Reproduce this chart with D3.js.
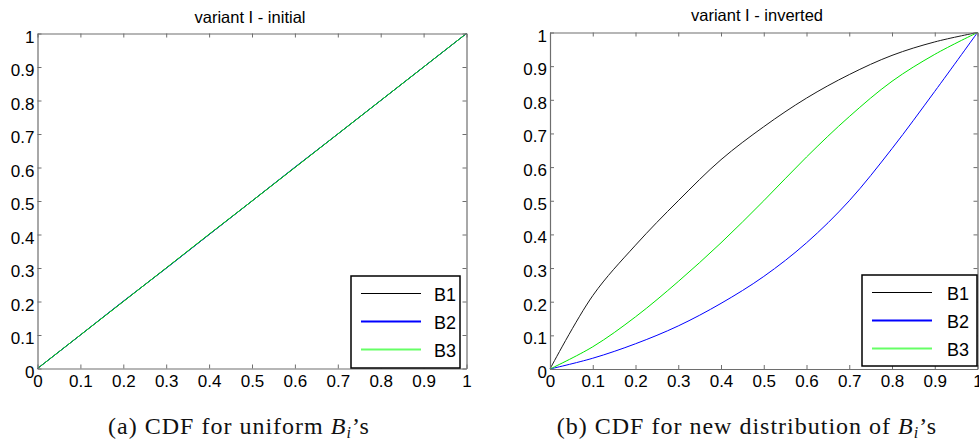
<!DOCTYPE html>
<html>
<head>
<meta charset="utf-8">
<script src="https://cdn.jsdelivr.net/npm/d3@7"></script>
<style>
  html, body { margin: 0; padding: 0; background: #fff; }
  svg { display: block; }
</style>
</head>
<body>
<svg id="chart" width="979" height="446"></svg>
<script>
// ---------------- data ----------------
const seriesNames = ["B1", "B2", "B3"];
const xValues = [0, 0.1, 0.2, 0.3, 0.4, 0.5, 0.6, 0.7, 0.8, 0.9, 1];
const tickValues = [0, 0.1, 0.2, 0.3, 0.4, 0.5, 0.6, 0.7, 0.8, 0.9, 1];
const tickLabels = ["0", "0.1", "0.2", "0.3", "0.4", "0.5", "0.6", "0.7", "0.8", "0.9", "1"];

// panel (a): variant I - initial
const initialB1 = [0, 0.1, 0.2, 0.3, 0.4, 0.5, 0.6, 0.7, 0.8, 0.9, 1];
const initialB2 = [0, 0.1, 0.201, 0.299, 0.4, 0.5, 0.601, 0.7, 0.8, 0.9, 1];
const initialB3 = [0, 0.1, 0.2, 0.3, 0.401, 0.5, 0.6, 0.7, 0.8, 0.9, 1];

// panel (b): variant I - inverted
const invertedB1 = [0, 0.218, 0.368, 0.5, 0.622, 0.72, 0.805, 0.875, 0.932, 0.972, 1];
const invertedB2 = [0, 0.032, 0.075, 0.128, 0.195, 0.275, 0.375, 0.5, 0.655, 0.825, 1];
const invertedB3 = [0, 0.066, 0.155, 0.26, 0.375, 0.5, 0.63, 0.75, 0.855, 0.935, 1];

const titles = ["variant I - initial", "variant I - inverted"];
const captionPrefix = ["(a) CDF for uniform ", "(b) CDF for new distribution of "];

// ---------------- layout / style ----------------
const lineColors = ["#1a1a1a", "#0000ff", "#00e600"];
const legendColors = ["#000000", "#0000ff", "#66ff66"];
const legendWidths = [1, 2.2, 2.2];

const panels = [
  { series: [initialB1, initialB2, initialB3], left: 37.5, right: 466.5, top: 33.5, bottom: 368.5,
    titleX: 250, titleY: 23, legend: { x: 351, y: 276, w: 109, h: 92 }, captionX: 239 },
  { series: [invertedB1, invertedB2, invertedB3], left: 550, right: 977.5, top: 32.5, bottom: 369,
    titleX: 757, titleY: 21, legend: { x: 862, y: 275, w: 115, h: 91 }, captionX: 747 }
];

const svg = d3.select("#chart");
const axisColor = "#6e6e6e";
const fontSans = "'Liberation Sans', Arial, Helvetica, sans-serif";

panels.forEach((p, pi) => {
  const x = d3.scaleLinear().domain([0, 1]).range([p.left, p.right]);
  const y = d3.scaleLinear().domain([0, 1]).range([p.bottom, p.top]);
  const g = svg.append("g");

  g.append("rect").attr("x", p.left).attr("y", p.top)
    .attr("width", p.right - p.left).attr("height", p.bottom - p.top).attr("fill", "#fff");

  const line = d3.line().x((d, i) => x(xValues[i])).y(d => y(d)).curve(d3.curveCatmullRom.alpha(0.5));
  p.series.forEach((s, si) => {
    g.append("path").datum(s).attr("d", line)
      .attr("fill", "none").attr("stroke", lineColors[si]).attr("stroke-width", 1)
      .attr("stroke-linejoin", "round");
  });

  const fmt = (d) => tickLabels[tickValues.indexOf(d)];

  const bottomAxis = d3.axisBottom(x).tickValues(tickValues).tickFormat(fmt)
    .tickSizeInner(-4).tickSizeOuter(0).tickPadding(6);
  const leftAxis = d3.axisLeft(y).tickValues(tickValues).tickFormat(fmt)
    .tickSizeInner(-4).tickSizeOuter(0).tickPadding(3);
  const topAxis = d3.axisTop(x).tickValues(tickValues).tickFormat("")
    .tickSizeInner(-4).tickSizeOuter(0);
  const rightAxis = d3.axisRight(y).tickValues(tickValues).tickFormat("")
    .tickSizeInner(-4).tickSizeOuter(0);

  const gb = g.append("g").attr("transform", `translate(0,${p.bottom})`).call(bottomAxis);
  const gl = g.append("g").attr("transform", `translate(${p.left},0)`).call(leftAxis);
  const gt = g.append("g").attr("transform", `translate(0,${p.top})`).call(topAxis);
  const gr = g.append("g").attr("transform", `translate(${p.right},0)`).call(rightAxis);

  [gb, gl, gt, gr].forEach(a => {
    a.select(".domain").attr("stroke", axisColor).attr("stroke-width", 1.2);
    a.selectAll(".tick line").attr("stroke", axisColor);
    a.selectAll("text").attr("fill", "#000").attr("font-family", fontSans).attr("font-size", 17);
  });
  gl.selectAll("text").attr("dy", "0.5em");

  g.append("text").attr("x", p.titleX).attr("y", p.titleY)
    .attr("text-anchor", "middle").attr("font-family", fontSans).attr("font-size", 16.5)
    .attr("fill", "#000").text(titles[pi]);

  const L = p.legend;
  const lg = g.append("g");
  lg.append("rect").attr("x", L.x).attr("y", L.y).attr("width", L.w).attr("height", L.h)
    .attr("fill", "#fff").attr("stroke", "#000").attr("stroke-width", 1.5);
  const rowY = [17.5, 45.5, 73.5];
  seriesNames.forEach((name, si) => {
    const yy = L.y + rowY[si];
    lg.append("line").attr("x1", L.x + 10).attr("x2", L.x + 70)
      .attr("y1", yy).attr("y2", yy)
      .attr("stroke", legendColors[si]).attr("stroke-width", legendWidths[si]);
    lg.append("text").attr("x", L.x + 83 + (pi === 1 ? 2 : 0)).attr("y", yy + 7.5)
      .attr("font-family", fontSans).attr("font-size", 18).attr("fill", "#000").text(name);
  });

  const cap = svg.append("text").attr("x", p.captionX).attr("y", 434)
    .attr("text-anchor", "middle")
    .attr("font-family", "'Liberation Serif', 'Times New Roman', serif")
    .attr("font-size", 24).attr("letter-spacing", 1).attr("fill", "#111");
  cap.append("tspan").text(captionPrefix[pi]);
  cap.append("tspan").attr("font-style", "italic").text("B");
  cap.append("tspan").attr("font-style", "italic").attr("font-size", 16).attr("dy", 4).text("i");
  cap.append("tspan").attr("dy", -4).text("\u2019s");
});
</script>
</body>
</html>
